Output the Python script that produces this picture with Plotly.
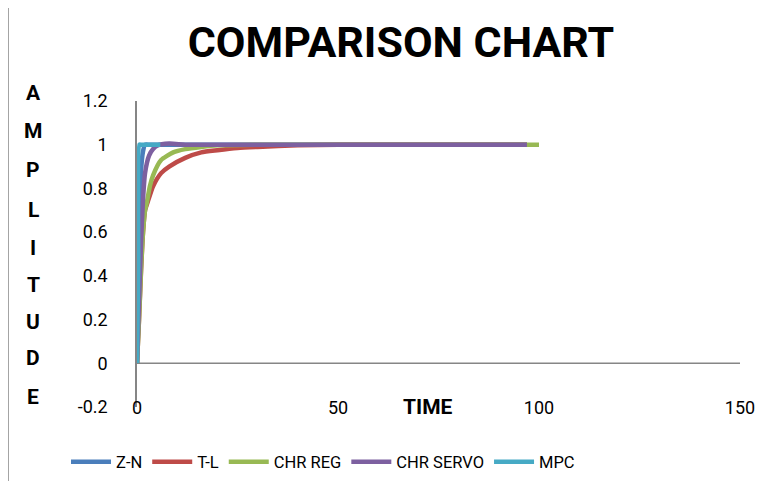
import plotly.graph_objects as go

# ---- data ----
zn_t = [0, 0.3, 0.6, 1.0, 1.5, 2.0, 3.0, 4.0, 6.0, 10, 20, 40, 60, 80, 97]
zn_y = [0, 0.35, 0.65, 0.88, 0.97, 1.0, 1.0, 1.0, 1.0, 1.0, 1.0, 1.0, 1.0, 1.0, 1.0]

tl_t = [0, 0.5, 1.0, 1.5, 2.0, 2.7, 4.0, 6.0, 8.0, 12, 16, 20, 25, 30, 40, 50, 60, 80, 97]
tl_y = [0, 0.2, 0.42, 0.6, 0.7, 0.74, 0.81, 0.87, 0.9, 0.94, 0.965, 0.975, 0.985, 0.99, 0.997, 1.0, 1.0, 1.0, 1.0]

chr_reg_t = [0, 0.5, 1.0, 1.5, 2.0, 2.5, 3.2, 4.0, 6.0, 9.0, 12, 16, 20, 30, 50, 70, 100]
chr_reg_y = [0, 0.2, 0.43, 0.6, 0.7, 0.74, 0.81, 0.86, 0.93, 0.965, 0.98, 0.99, 0.997, 1.0, 1.0, 1.0, 1.0]

chr_servo_t = [0, 0.5, 1.0, 1.5, 2.0, 3.0, 4.0, 5.0, 8.0, 12, 20, 40, 60, 80, 97]
chr_servo_y = [0, 0.28, 0.55, 0.75, 0.87, 0.95, 0.98, 0.995, 1.005, 1.0, 1.0, 1.0, 1.0, 1.0, 1.0]

mpc_t = [0, 0.3, 0.6, 1.0, 2.0, 3.0, 4.0, 5.0, 5.8]
mpc_y = [0, 0.45, 1.0, 1.0, 1.0, 1.0, 1.0, 1.0, 1.0]

x_ticks = [0, 50, 100, 150]
y_ticks = [-0.2, 0, 0.2, 0.4, 0.6, 0.8, 1, 1.2]
y_tick_text = ["-0.2", "0", "0.2", "0.4", "0.6", "0.8", "1", "1.2"]

series = [
    ("Z-N", zn_t, zn_y, "#4A7EBB"),
    ("T-L", tl_t, tl_y, "#BE4B48"),
    ("CHR REG", chr_reg_t, chr_reg_y, "#98B954"),
    ("CHR SERVO", chr_servo_t, chr_servo_y, "#7D60A0"),
    ("MPC", mpc_t, mpc_y, "#46AAC5"),
]

FONT = "Roboto, Liberation Sans, sans-serif"

fig = go.Figure()
for name, t, y, c in series:
    fig.add_trace(go.Scatter(x=t, y=y, name=name, mode="lines",
                             line=dict(color=c, width=4.5, shape="spline", smoothing=0.6)))

OFF = 8  # page body margin in the browser
W, H = 776 - 2 * OFF, 481 - OFF
L = 137 - OFF
T = 101 - OFF
B = H - (407 - OFF)
R = W - (740 - OFF)
pw = W - L - R
ph = H - T - B

def px(xp):
    return (xp - OFF - L) / pw

def py(yp):
    return (H - B - (yp - OFF)) / ph

fig.update_layout(
    width=W, height=H,
    margin=dict(l=L, r=R, t=T, b=B, autoexpand=False),
    paper_bgcolor="white", plot_bgcolor="white",
    font=dict(family=FONT, size=16.5, color="black"),
    title=dict(text="<b>COMPARISON CHART</b>", x=(401 - OFF) / W, xanchor="center",
               y=1 - (42 - OFF) / H, yanchor="middle",
               font=dict(family=FONT, size=43, color="black")),
    showlegend=True,
    legend=dict(orientation="h", x=px(66), xanchor="left", y=py(462), yanchor="middle",
                font=dict(family=FONT, size=16.5, color="black"),
                traceorder="normal", itemwidth=40),
    xaxis=dict(range=[0, 150], tickvals=x_ticks, showgrid=False, zeroline=False,
               showline=False, ticks="", ticklabelstandoff=-12, automargin=False,
               tickfont=dict(family=FONT, size=18)),
    yaxis=dict(range=[-0.2, 1.2], tickvals=y_ticks, ticktext=y_tick_text,
               showgrid=False, zeroline=False, showline=True, linecolor="#868686",
               linewidth=1.5, ticks="", ticklabelstandoff=24, automargin=False,
               tickfont=dict(family=FONT, size=18)),
)

# x axis line drawn at y = 0 (axis crossing)
fig.add_shape(type="line", xref="x", yref="y", x0=0, x1=150, y0=0, y1=0,
              line=dict(color="#868686", width=1.5), layer="below")
# chart-area left border
fig.add_shape(type="line", xref="paper", yref="paper", x0=px(8), x1=px(8),
              y0=py(0), y1=py(490), line=dict(color="#868686", width=1.5))

letters = ["A", "M", "P", "L", "I", "T", "U", "D", "E"]
ys = [93, 131, 170, 210, 248, 285, 322, 358, 397]
for ch, yy in zip(letters, ys):
    fig.add_annotation(text="<b>%s</b>" % ch, xref="paper", yref="paper",
                       x=px(33), y=py(yy), showarrow=False, xanchor="center",
                       yanchor="middle", font=dict(family=FONT, size=21, color="black"))

fig.add_annotation(text="<b>TIME</b>", xref="paper", yref="paper", x=px(428), y=py(407),
                   showarrow=False, xanchor="center", yanchor="middle",
                   font=dict(family=FONT, size=21, color="black"))

fig.write_html("out.html")
